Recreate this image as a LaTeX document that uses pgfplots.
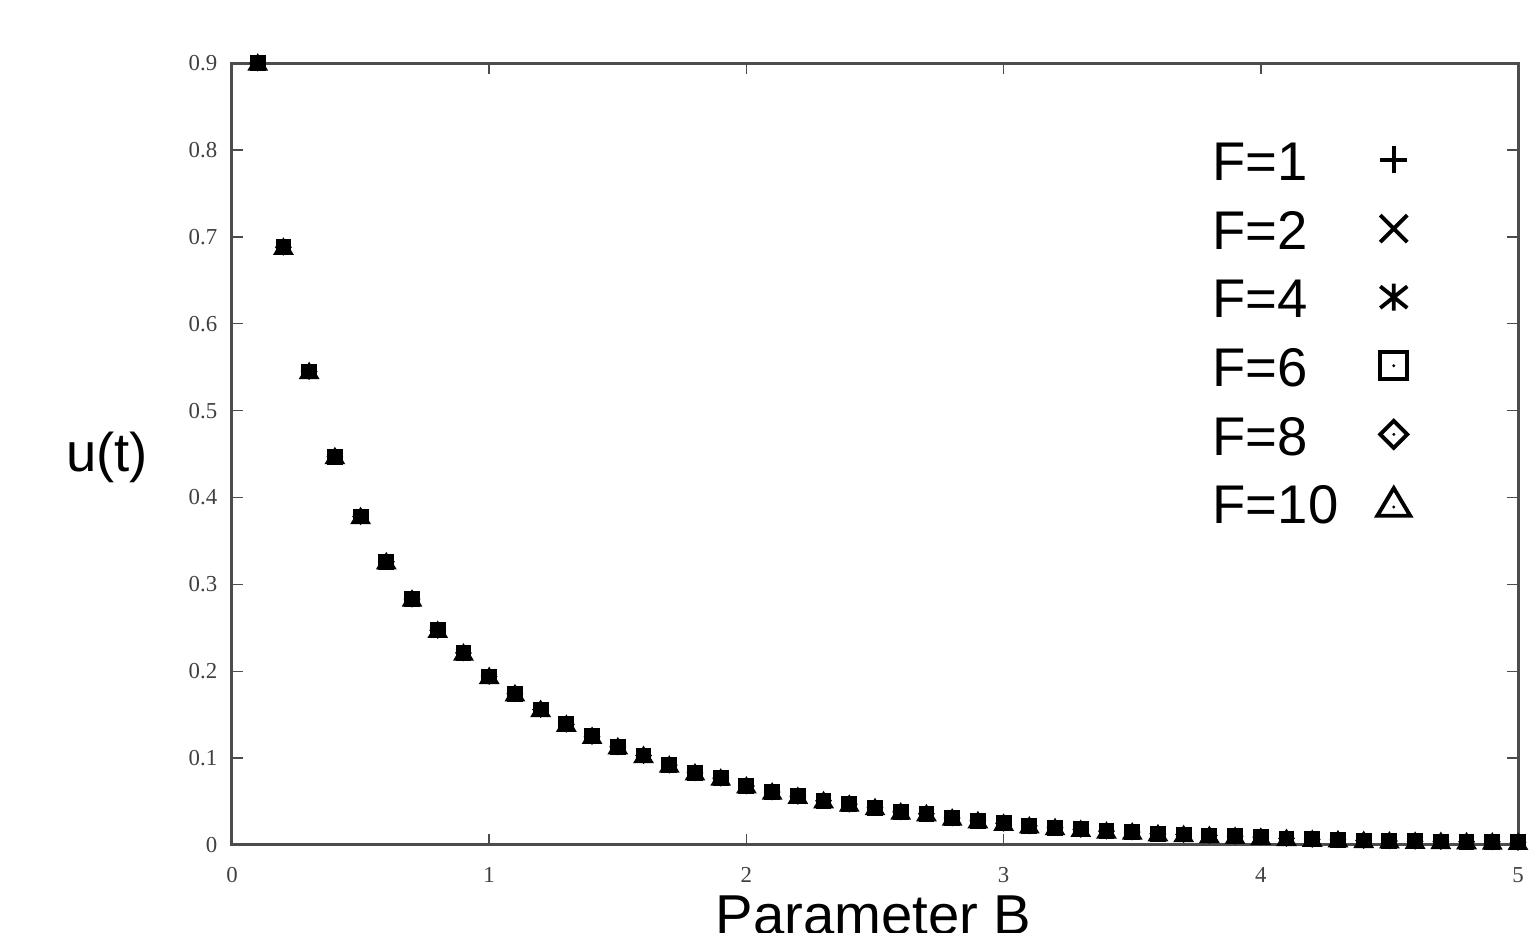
\documentclass[border=0pt]{standalone}
\usepackage{fontspec}
\setmainfont{Liberation Serif}
\newfontfamily\lsans{Liberation Sans}
\usepackage{pgfplots}
\usepackage{pgfplotstable}
\pgfplotsset{compat=1.18}

% gnuplot-like point types, each with the little centre dot
\pgfdeclareplotmark{gpplus}{%
  \pgfpathmoveto{\pgfqpoint{-\pgfplotmarksize}{0pt}}\pgfpathlineto{\pgfqpoint{\pgfplotmarksize}{0pt}}%
  \pgfpathmoveto{\pgfqpoint{0pt}{-\pgfplotmarksize}}\pgfpathlineto{\pgfqpoint{0pt}{\pgfplotmarksize}}%
  \pgfusepathqstroke}
\pgfdeclareplotmark{gpcross}{%
  \pgfpathmoveto{\pgfqpoint{-\pgfplotmarksize}{-\pgfplotmarksize}}\pgfpathlineto{\pgfqpoint{\pgfplotmarksize}{\pgfplotmarksize}}%
  \pgfpathmoveto{\pgfqpoint{-\pgfplotmarksize}{\pgfplotmarksize}}\pgfpathlineto{\pgfqpoint{\pgfplotmarksize}{-\pgfplotmarksize}}%
  \pgfusepathqstroke}
\pgfdeclareplotmark{gpstar}{%
  \pgfpathmoveto{\pgfqpoint{-\pgfplotmarksize}{-.8\pgfplotmarksize}}\pgfpathlineto{\pgfqpoint{\pgfplotmarksize}{.8\pgfplotmarksize}}%
  \pgfpathmoveto{\pgfqpoint{-\pgfplotmarksize}{.8\pgfplotmarksize}}\pgfpathlineto{\pgfqpoint{\pgfplotmarksize}{-.8\pgfplotmarksize}}%
  \pgfpathmoveto{\pgfqpoint{0pt}{-\pgfplotmarksize}}\pgfpathlineto{\pgfqpoint{0pt}{\pgfplotmarksize}}%
  \pgfusepathqstroke}
\pgfdeclareplotmark{gpbox}{%
  \pgfpathrectangle{\pgfqpoint{-\pgfplotmarksize}{-\pgfplotmarksize}}{\pgfqpoint{2\pgfplotmarksize}{2\pgfplotmarksize}}%
  \pgfusepathqstroke
  \pgfpathcircle{\pgfpointorigin}{.12\pgfplotmarksize}\pgfusepathqfill}
\pgfdeclareplotmark{gpdiamond}{%
  \pgfpathmoveto{\pgfqpoint{0pt}{\pgfplotmarksize}}\pgfpathlineto{\pgfqpoint{\pgfplotmarksize}{0pt}}%
  \pgfpathlineto{\pgfqpoint{0pt}{-\pgfplotmarksize}}\pgfpathlineto{\pgfqpoint{-\pgfplotmarksize}{0pt}}\pgfpathclose
  \pgfusepathqstroke
  \pgfpathcircle{\pgfpointorigin}{.12\pgfplotmarksize}\pgfusepathqfill}
\pgfdeclareplotmark{gptri}{%
  \pgfpathmoveto{\pgfqpoint{0pt}{1.1\pgfplotmarksize}}\pgfpathlineto{\pgfqpoint{1.22\pgfplotmarksize}{-.95\pgfplotmarksize}}%
  \pgfpathlineto{\pgfqpoint{-1.22\pgfplotmarksize}{-.95\pgfplotmarksize}}\pgfpathclose
  \pgfusepathqstroke
  \pgfpathcircle{\pgfqpoint{0pt}{-.3\pgfplotmarksize}}{.12\pgfplotmarksize}\pgfusepathqfill}

\pgfplotstableread{
B    u
0.1  0.900
0.2  0.688
0.3  0.545
0.4  0.447
0.5  0.378
0.6  0.326
0.7  0.283
0.8  0.247
0.9  0.221
1.0  0.194
1.1  0.174
1.2  0.156
1.3  0.139
1.4  0.125
1.5  0.113
1.6  0.103
1.7  0.092
1.8  0.083
1.9  0.077
2.0  0.068
2.1  0.061
2.2  0.056
2.3  0.051
2.4  0.047
2.5  0.043
2.6  0.038
2.7  0.036
2.8  0.031
2.9  0.028
3.0  0.025
3.1  0.022
3.2  0.020
3.3  0.018
3.4  0.016
3.5  0.015
3.6  0.013
3.7  0.012
3.8  0.011
3.9  0.010
4.0  0.009
4.1  0.0075
4.2  0.0065
4.3  0.006
4.4  0.0052
4.5  0.0047
4.6  0.0043
4.7  0.0041
4.8  0.0038
4.9  0.0035
5.0  0.0030
}\udata

\begin{document}
\begin{tikzpicture}
\useasboundingbox (-23.2mm,-8.8mm) rectangle (130.7mm,84.5mm);
\begin{axis}[
  scale only axis, width=128.6mm, height=78.2mm,
  xmin=0, xmax=5, ymin=0, ymax=0.9,
  xtick={0,1,2,3,4,5},
  ytick={0,0.1,0.2,0.3,0.4,0.5,0.6,0.7,0.8,0.9},
  /pgf/number format/assume math mode=true,
  tick label style={font=\fontsize{6.5}{7}\selectfont, text=black!75, inner sep=0pt},
  xticklabel style={anchor=north, yshift=-2.2mm},
  yticklabel style={anchor=east, xshift=-1.4mm},
  tick align=inside, major tick length=1.1mm,
  tick style={black!70, line width=0.4pt},
  axis line style={black!70, line width=0.3mm},
  xlabel={Parameter B}, ylabel={u(t)},
  every axis x label/.style={at={(axis description cs:0.499,0)}, anchor=base, yshift=-9mm,
    inner sep=0pt, font=\lsans\fontsize{16}{19}\selectfont},
  every axis y label/.style={at={(axis description cs:0,0.496)}, anchor=center, xshift=-12.5mm,
    inner sep=0pt, font=\lsans\fontsize{15.5}{18}\selectfont},
  legend plot pos=right, legend cell align=left,
  legend style={draw=none, fill=none, at={(rel axis cs:0.762,0.908)}, anchor=north west,
    inner sep=0pt, row sep=0pt, column sep=3.9mm,
    font=\lsans\fontsize{15.5}{18}\selectfont,
    nodes={inner sep=0pt, text height=4.5mm, text depth=2.36mm}},
  every axis plot/.append style={only marks, black, mark size=0.65mm,
    mark options={solid, line width=0.8pt},
    legend image post style={yshift=1.0mm, mark size=1.35mm, mark options={line width=1.1pt}}},
  clip=false,
]
\addplot[mark=gpplus]    table[x=B, y=u] {\udata};
\addlegendentry{F=1}
\addplot[mark=gpcross]   table[x=B, y=u] {\udata};
\addlegendentry{F=2}
\addplot[mark=gpstar]    table[x=B, y=u] {\udata};
\addlegendentry{F=4}
\addplot[mark=gpbox]     table[x=B, y=u] {\udata};
\addlegendentry{F=6}
\addplot[mark=gpdiamond] table[x=B, y=u] {\udata};
\addlegendentry{F=8}
\addplot[mark=gptri]     table[x=B, y=u] {\udata};
\addlegendentry{F=10}
\end{axis}
\end{tikzpicture}
\end{document}
